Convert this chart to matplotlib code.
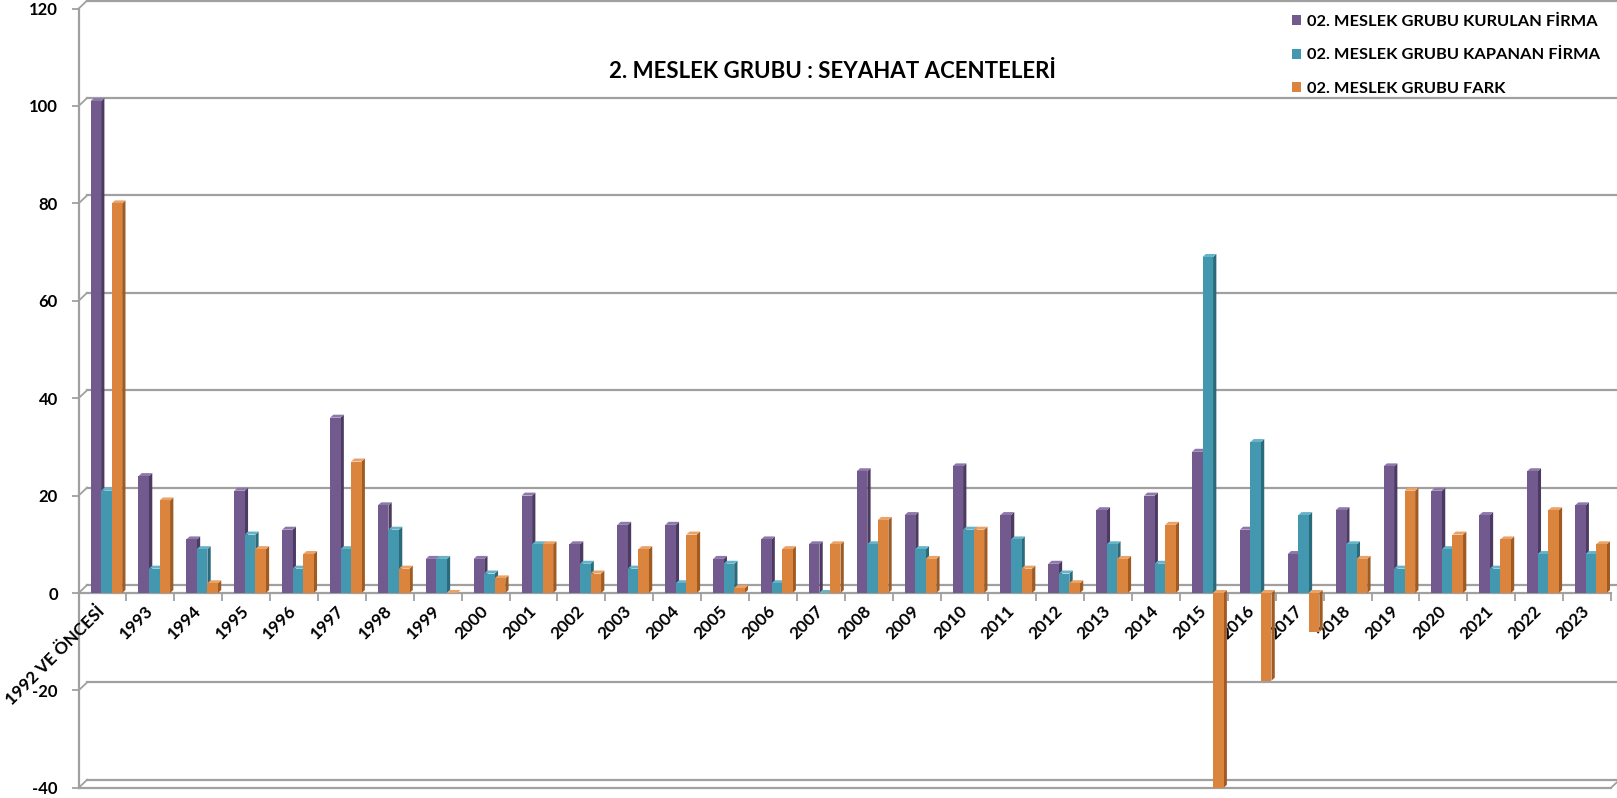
import matplotlib
matplotlib.use("Agg")
import matplotlib.pyplot as plt
from matplotlib.patches import Polygon, Patch
from matplotlib.transforms import ScaledTranslation
from matplotlib.lines import Line2D

plt.rcParams['font.family'] = ['Lato', 'DejaVu Sans']

categories = ["1992 VE ÖNCESİ", "1993", "1994", "1995", "1996", "1997", "1998", "1999",
              "2000", "2001", "2002", "2003", "2004", "2005", "2006", "2007", "2008",
              "2009", "2010", "2011", "2012", "2013", "2014", "2015", "2016", "2017",
              "2018", "2019", "2020", "2021", "2022", "2023"]
kurulan = [101, 24, 11, 21, 13, 36, 18, 7, 7, 20, 10, 14, 14, 7, 11, 10, 25, 16, 26,
           16, 6, 17, 20, 29, 13, 8, 17, 26, 21, 16, 25, 18]
kapanan = [21, 5, 9, 12, 5, 9, 13, 7, 4, 10, 6, 5, 2, 6, 2, 0, 10, 9, 13, 11, 4, 10,
           6, 69, 31, 16, 10, 5, 9, 5, 8, 8]
fark = [80, 19, 2, 9, 8, 27, 5, 0, 3, 10, 4, 9, 12, 1, 9, 10, 15, 7, 13, 5, 2, 7, 14,
        -40, -18, -8, 7, 21, 12, 11, 17, 10]
series_names = ["02. MESLEK GRUBU KURULAN FİRMA", "02. MESLEK GRUBU KAPANAN FİRMA",
                "02. MESLEK GRUBU FARK"]
title = "2. MESLEK GRUBU : SEYAHAT ACENTELERİ"
yticks = [-40, -20, 0, 20, 40, 60, 80, 100, 120]

front = ['#725A8F', '#4398B0', '#DB843D']
side = ['#4B3A62', '#2B6A7B', '#A05B23']
topc = ['#8D78AA', '#66B3C8', '#EAA267']

W, H = 1617, 798
fig = plt.figure(figsize=(W / 100, H / 100), dpi=100)
ax = fig.add_axes([78.6 / W, 1 - 787.8 / H, (1611 - 78.6) / W, (787.8 - 8.6) / H])
ax.set_xlim(-0.5, len(categories) - 0.5)
ax.set_ylim(-40, 120)
ax.spines['bottom'].set_position(('data', 0))
for s in ax.spines.values():
    s.set_visible(False)

grid_col = '#A0A0A0'
off = ScaledTranslation(8.5 / 100, 8 / 100, fig.dpi_scale_trans)
tr_back = ax.transData + off
n = len(categories)
for v in yticks:
    ax.add_line(Line2D([-0.5, n - 0.5 + 0.2], [v, v], color=grid_col, lw=1.6,
                       transform=tr_back, clip_on=False, zorder=0))
for v in yticks:
    p0 = ax.transData.transform((-0.5, v))
    p1 = tr_back.transform((-0.5, v))
    fig.add_artist(Line2D([p0[0] / W, p1[0] / W], [p0[1] / H, p1[1] / H],
                          transform=fig.transFigure, color=grid_col, lw=1.3))
p0 = ax.transData.transform((n - 0.5, -40))
p1 = tr_back.transform((n - 0.5, -40))
fig.add_artist(Line2D([p0[0] / W, p1[0] / W], [p0[1] / H, p1[1] / H],
                      transform=fig.transFigure, color=grid_col, lw=1.3))
ax.add_line(Line2D([-0.5, -0.5], [-40, 120], color=grid_col, lw=1.6, clip_on=False, zorder=1))
ax.add_line(Line2D([-0.5, n - 0.5], [-40, -40], color=grid_col, lw=1.6, clip_on=False, zorder=1))
ax.add_line(Line2D([-0.5, n - 0.5], [0, 0], color=grid_col, lw=1.6, clip_on=False, zorder=1))

bw = 0.22
offsets = [-0.14, 0.08, 0.30]
ddx = 3.3 / 47.9
ddy = 3.0 / 4.87
for si, vals in enumerate([kurulan, kapanan, fark]):
    xs = [i + offsets[si] for i in range(n)]
    z = 3 + si
    ax.bar(xs, vals, width=bw, color=front[si], zorder=z, linewidth=0)
    for x, v in zip(xs, vals):
        x0, x1 = x - bw / 2, x + bw / 2
        top, bot = max(0, v), min(0, v)
        ax.add_patch(Polygon([(x1, bot), (x1, top), (x1 + ddx, top + ddy), (x1 + ddx, bot + ddy)],
                             closed=True, facecolor=side[si], edgecolor='none', zorder=z - 0.5))
        ax.add_patch(Polygon([(x0, top), (x1, top), (x1 + ddx, top + ddy), (x0 + ddx, top + ddy)],
                             closed=True, facecolor=topc[si], edgecolor='none', zorder=z - 0.5))

ax.set_yticks(yticks)
ax.set_yticklabels([str(v) for v in yticks], fontsize=12, fontweight='bold')
ax.tick_params(axis='y', length=5, width=1.3, color=grid_col, pad=10)
ax.set_xticks(range(n))
ax.set_xticklabels(categories, rotation=45, ha='right', va='center',
                   rotation_mode='anchor', fontsize=12.3, fontweight='bold')
ax.tick_params(axis='x', which='major', length=0, pad=11)
ax.set_xticks([k - 0.5 for k in range(n + 1)], minor=True)
ax.tick_params(axis='x', which='minor', length=6, width=1.3, color=grid_col, direction='out')

fig.text(832 / W, 1 - 71 / H, title, ha='center', va='center', fontsize=16, fontweight='bold')

handles = [Patch(facecolor=c, edgecolor='none') for c in front]
fig.legend(handles, series_names, loc='upper left', bbox_to_anchor=(1292 / W, 1 - 14.5 / H),
           frameon=False, prop={'weight': 'bold', 'size': 11.8}, handlelength=0.55,
           handleheight=0.55, handletextpad=0.35, labelspacing=1.2, borderaxespad=0,
           borderpad=0)

fig.savefig("out.png", dpi=100)
